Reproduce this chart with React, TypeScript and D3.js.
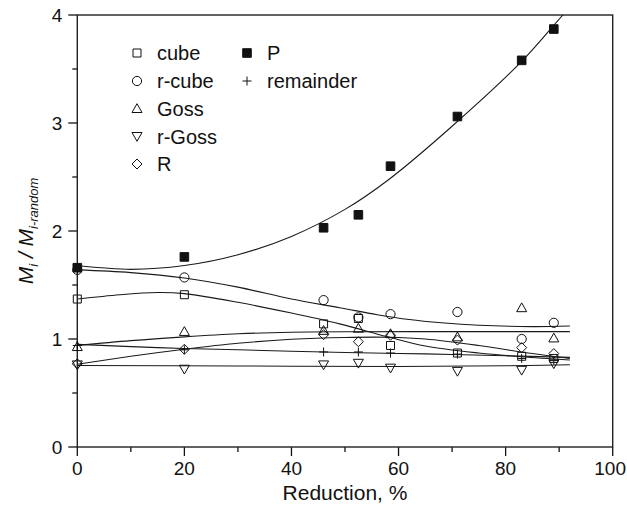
import React, { useEffect, useRef } from "react";
import * as d3 from "d3";

// reduction values (%) where the samples were measured
const reduction = [0, 20, 46, 52.5, 58.5, 71, 83, 89];

// M_i / M_i-random per texture component
const cube = [1.37, 1.41, 1.14, 1.19, 0.94, 0.87, 0.84, 0.82];
const rCube = [1.64, 1.57, 1.36, 1.2, 1.23, 1.25, 1.0, 1.15];
const goss = [0.93, 1.07, 1.08, 1.1, 1.05, 1.02, 1.29, 1.01];
const rGoss = [0.76, 0.72, 0.76, 0.775, 0.73, 0.7, 0.71, 0.77];
const rComp = [0.77, 0.905, 1.04, 0.975, 1.035, 0.99, 0.92, 0.865];
const pComp = [1.66, 1.76, 2.03, 2.15, 2.6, 3.06, 3.58, 3.87];
const remainder = [0.94, 0.9, 0.88, 0.88, 0.87, 0.86, 0.82, 0.8];

// fitted trend lines as [reduction, value]
const fitP: [number, number][] = [[0, 1.68], [10, 1.645], [20, 1.68], [30, 1.78], [40, 1.95], [50, 2.2], [58, 2.47], [70, 2.97], [83, 3.57], [90.7, 4.0], [93, 4.12]];
const fitRCube: [number, number][] = [[0, 1.64], [10, 1.615], [20, 1.565], [30, 1.48], [40, 1.37], [49, 1.29], [56, 1.225], [62, 1.18], [68, 1.15], [75, 1.127], [85, 1.115], [92, 1.12]];
const fitCube: [number, number][] = [[0, 1.37], [8, 1.41], [15, 1.43], [20, 1.42], [30, 1.34], [40, 1.24], [49, 1.14], [58, 1.02], [65, 0.935], [75, 0.87], [83, 0.835], [92, 0.806]];
const fitGoss: [number, number][] = [[0, 0.94], [10, 0.985], [20, 1.02], [30, 1.048], [40, 1.062], [50, 1.067], [70, 1.068], [92, 1.068]];
const fitRemainder: [number, number][] = [[0, 0.95], [15, 0.92], [30, 0.9], [50, 0.875], [65, 0.862], [80, 0.845], [92, 0.83]];
const fitR: [number, number][] = [[0, 0.766], [10, 0.84], [20, 0.905], [30, 0.96], [40, 0.997], [50, 1.014], [58, 1.016], [65, 1.0], [75, 0.94], [85, 0.865], [92, 0.82]];
const fitRGoss: [number, number][] = [[0, 0.755], [30, 0.75], [60, 0.746], [80, 0.752], [92, 0.762]];

const xTicks = [0, 20, 40, 60, 80, 100];
const yTicks = [0, 1, 2, 3, 4];

const W = 627, H = 514;
const left = 77.3, right = 612.7, top = 15, bottom = 447;

function markerPath(kind: string) {
    switch (kind) {
        case "square": return "M-4,-4h8v8h-8Z";
        case "tri": return "M0,-4.8L5,4L-5,4Z";
        case "trid": return "M0,4.8L5,-4L-5,-4Z";
        case "diamond": return "M0,-5L5,0L0,5L-5,0Z";
        case "plus": return "M-4.5,0h9M0,-4.5v9";
        case "fsquare": return "M-4.3,-4.3h8.6v8.6h-8.6Z";
        default: return "";
    }
}

const App = () => {
    const ref = useRef<SVGSVGElement>(null);

    useEffect(() => {
        const svg = d3.select(ref.current);
        svg.selectAll("*").remove();

        const x = d3.scaleLinear().domain([0, 100]).range([left, right]);
        const y = d3.scaleLinear().domain([0, 4]).range([bottom, top]);
        const font = "'Liberation Sans', Arial, Helvetica, sans-serif";

        svg.append("defs").append("clipPath").attr("id", "plotclip")
            .append("rect").attr("x", left).attr("y", top)
            .attr("width", right - left).attr("height", bottom - top);

        // x axis ticks
        const xa = svg.append("g").attr("transform", `translate(0,${bottom})`);
        xa.selectAll("line.maj").data(xTicks).enter().append("line")
            .attr("x1", d => x(d)).attr("x2", d => x(d)).attr("y1", 0).attr("y2", 9)
            .attr("stroke", "#111").attr("stroke-width", 1.3);
        xa.selectAll("line.min").data(d3.range(10, 100, 20)).enter().append("line")
            .attr("x1", d => x(d)).attr("x2", d => x(d)).attr("y1", 0).attr("y2", 5)
            .attr("stroke", "#111").attr("stroke-width", 1.3);
        // last label sits against the right edge of the picture
        xa.selectAll("text").data(xTicks).enter().append("text")
            .attr("x", d => d === 100 ? W - 1 : x(d)).attr("y", 28)
            .attr("text-anchor", d => d === 100 ? "end" : "middle")
            .attr("font-family", font).attr("font-size", 19).attr("fill", "#111")
            .text(d => d);

        // y axis ticks
        const ya = svg.append("g").attr("transform", `translate(${left},0)`);
        ya.selectAll("line.maj").data(yTicks).enter().append("line")
            .attr("y1", d => y(d)).attr("y2", d => y(d)).attr("x1", 0).attr("x2", -9)
            .attr("stroke", "#111").attr("stroke-width", 1.3);
        ya.selectAll("line.min").data([0.5, 1.5, 2.5, 3.5]).enter().append("line")
            .attr("y1", d => y(d)).attr("y2", d => y(d)).attr("x1", 0).attr("x2", -5)
            .attr("stroke", "#111").attr("stroke-width", 1.3);
        ya.selectAll("text").data(yTicks).enter().append("text")
            .attr("x", -15).attr("y", d => y(d) + 7).attr("text-anchor", "end")
            .attr("font-family", font).attr("font-size", 19).attr("fill", "#111")
            .text(d => d);

        // frame
        svg.append("rect").attr("x", left).attr("y", top)
            .attr("width", right - left).attr("height", bottom - top)
            .attr("fill", "none").attr("stroke", "#222").attr("stroke-width", 1.4);

        // fitted curves
        const line = d3.line<[number, number]>()
            .x(d => x(d[0])).y(d => y(d[1]))
            .curve(d3.curveCatmullRom.alpha(0.5));
        const fits = [fitP, fitRCube, fitCube, fitGoss, fitRemainder, fitR, fitRGoss];
        svg.append("g").attr("clip-path", "url(#plotclip)")
            .selectAll("path").data(fits).enter().append("path")
            .attr("d", d => line(d))
            .attr("fill", "none").attr("stroke", "#1a1a1a").attr("stroke-width", 1.1);

        // markers
        const series = [
            { name: "cube", kind: "square", vals: cube },
            { name: "r-cube", kind: "circle", vals: rCube },
            { name: "Goss", kind: "tri", vals: goss },
            { name: "r-Goss", kind: "trid", vals: rGoss },
            { name: "R", kind: "diamond", vals: rComp },
            { name: "P", kind: "fsquare", vals: pComp },
            { name: "remainder", kind: "plus", vals: remainder },
        ];

        const drawMarker = (g: any, kind: string, cx: number, cy: number) => {
            if (kind === "circle") {
                g.append("circle").attr("cx", cx).attr("cy", cy).attr("r", 4.6)
                    .attr("fill", "none").attr("stroke", "#111").attr("stroke-width", 1);
            } else {
                g.append("path").attr("d", markerPath(kind))
                    .attr("transform", `translate(${cx},${cy})`)
                    .attr("fill", kind === "fsquare" ? "#111" : "none")
                    .attr("stroke", "#111").attr("stroke-width", 1);
            }
        };

        const mg = svg.append("g");
        series.forEach(s => {
            s.vals.forEach((v, i) => drawMarker(mg, s.kind, x(reduction[i]), y(v)));
        });

        // legend
        const lg = svg.append("g");
        const rows = [53, 81, 108.5, 136.5, 164];
        series.forEach((s, i) => {
            const col = i < 5 ? 0 : 1;
            const ry = col === 0 ? rows[i] : rows[i - 5];
            const mx = col === 0 ? 137 : 247;
            drawMarker(lg, s.kind, mx, ry);
            lg.append("text").attr("x", mx + 20).attr("y", ry + 7)
                .attr("font-family", font).attr("font-size", 20).attr("fill", "#111")
                .text(s.name);
        });

        // axis titles
        svg.append("text").attr("x", (left + right) / 2).attr("y", 500)
            .attr("text-anchor", "middle").attr("font-family", font)
            .attr("font-size", 21).attr("fill", "#111").text("Reduction, %");

        const yt = svg.append("text")
            .attr("transform", `translate(33,${(top + bottom) / 2}) rotate(-90)`)
            .attr("text-anchor", "middle").attr("font-family", font)
            .attr("font-style", "italic").attr("fill", "#111");
        yt.append("tspan").attr("font-size", 21).text("M");
        yt.append("tspan").attr("font-size", 13).attr("dy", 5).text("i");
        yt.append("tspan").attr("font-size", 21).attr("dy", -5).text(" / M");
        yt.append("tspan").attr("font-size", 13).attr("dy", 5).text("i-random");
    }, []);

    return (
        <svg ref={ref} width={W} height={H}
            style={{ position: "absolute", left: 0, top: 0, background: "#fff" }} />
    );
};

export default App;
